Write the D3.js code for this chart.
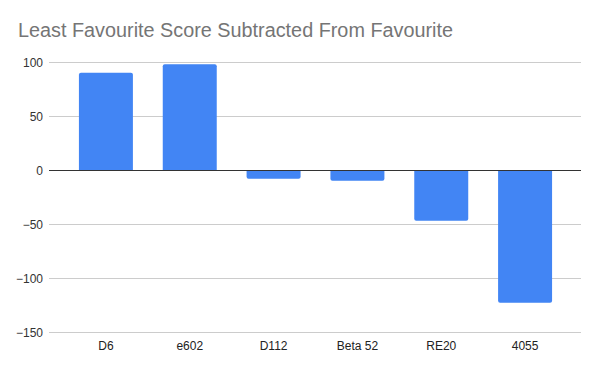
<!DOCTYPE html>
<html><head><meta charset="utf-8">
<script src="https://cdn.jsdelivr.net/npm/d3@7"></script>
<style>body{margin:0;background:#fff}svg{display:block}</style>
</head><body>
<svg id="chart" width="600" height="371"></svg>
<script>
const categories = ["D6", "e602", "D112", "Beta 52", "RE20", "4055"];
const values = [90, 98, -8, -10, -47, -123];
const yTicks = [100, 50, 0, -50, -100, -150];
const title = "Least Favourite Score Subtracted From Favourite";

const svg = d3.select("#chart");
const W = 600, H = 371;
const gridLeft = 49, gridRight = 581;

const y = d3.scaleLinear().domain([-150, 100]).range([332, 62]);
const x = d3.scaleBand().domain(categories).range([64, 567]).paddingInner(0.356).paddingOuter(0.178);

svg.append("rect").attr("width", W).attr("height", H).attr("fill", "#fff");

const t = svg.append("text").attr("x", 18).attr("y", 37)
  .attr("font-family", "'Liberation Sans', Arial, sans-serif")
  .attr("font-size", 20).attr("fill", "#757575").text(title);
t.attr("textLength", 435).attr("lengthAdjust", "spacingAndGlyphs");

// gridlines
svg.append("g").selectAll("line").data(yTicks.filter(d => d !== 0)).join("line")
  .attr("x1", gridLeft).attr("x2", gridRight)
  .attr("y1", d => Math.round(y(d)) + 0.5).attr("y2", d => Math.round(y(d)) + 0.5)
  .attr("stroke", "#cccccc").attr("stroke-width", 1);

// y labels
const yAxis = d3.axisLeft(y).tickValues(yTicks).tickSize(0).tickPadding(0);
const ya = svg.append("g").attr("transform", `translate(43,0)`).call(yAxis);
ya.select(".domain").remove();
ya.selectAll("text").attr("font-family", "'Liberation Sans', Arial, sans-serif")
  .attr("font-size", 12).attr("fill", "#333").attr("dy", "0.35em");

// bars with rounded outer corners
const r = 2;
function barPath(d, i) {
  const c = categories[i];
  const x0 = x(c), x1 = x(c) + x.bandwidth();
  const y0 = y(0), y1 = y(d);
  if (d >= 0) {
    return `M${x0},${y0} L${x0},${y1 + r} Q${x0},${y1} ${x0 + r},${y1} L${x1 - r},${y1} Q${x1},${y1} ${x1},${y1 + r} L${x1},${y0} Z`;
  } else {
    return `M${x0},${y0} L${x0},${y1 - r} Q${x0},${y1} ${x0 + r},${y1} L${x1 - r},${y1} Q${x1},${y1} ${x1},${y1 - r} L${x1},${y0} Z`;
  }
}
svg.append("g").selectAll("path").data(values).join("path")
  .attr("d", (d, i) => barPath(d, i)).attr("fill", "#4285f4");

// zero line
svg.append("line").attr("x1", gridLeft).attr("x2", gridRight)
  .attr("y1", Math.round(y(0)) + 0.5).attr("y2", Math.round(y(0)) + 0.5)
  .attr("stroke", "#333").attr("stroke-width", 1);

// x labels
const xAxis = d3.axisBottom(x).tickSize(0).tickPadding(0);
const xa = svg.append("g").attr("transform", `translate(0,350)`).call(xAxis);
xa.select(".domain").remove();
xa.selectAll("text").attr("font-family", "'Liberation Sans', Arial, sans-serif")
  .attr("font-size", 12).attr("fill", "#222").attr("y", 0).attr("dy", 0);
</script>
</body></html>
